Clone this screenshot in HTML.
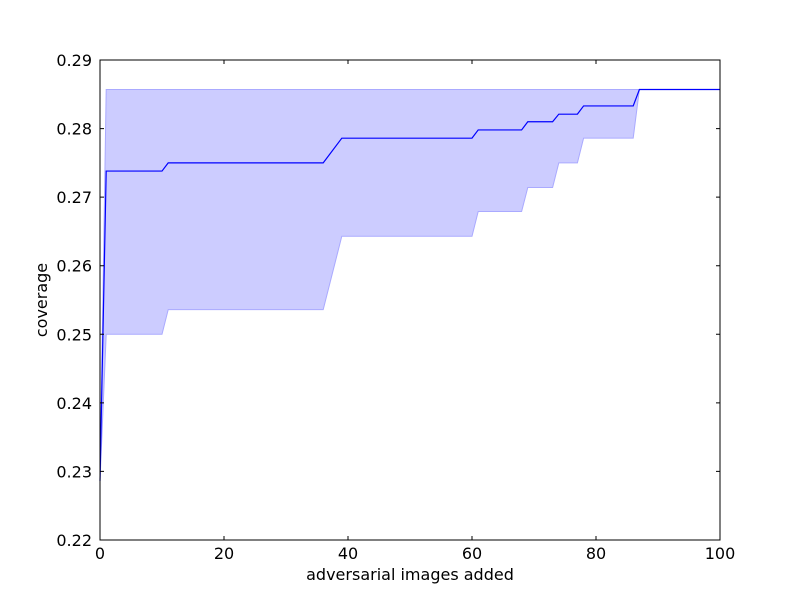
<!DOCTYPE html>
<html><head><meta charset="utf-8"><style>
body{margin:0;background:#fff;}
svg{display:block;font-family:"DejaVu Sans","Liberation Sans",sans-serif;}
</style></head><body>
<svg id="chart" width="800" height="600">
<rect width="800" height="600" fill="#fff"/>
<g id="plot"></g>
</svg>
<script>
const xs    = [0,1,10,11,36,39,60,61,68,69,73,74,77,78,86,87,100];
const meanV = [0.2286,0.2738,0.2738,0.2750,0.2750,0.2786,0.2786,0.2798,0.2798,0.2810,0.2810,0.2821,0.2821,0.2833,0.2833,0.2857,0.2857];
const lowV  = [0.2286,0.2500,0.2500,0.2536,0.2536,0.2643,0.2643,0.2679,0.2679,0.2714,0.2714,0.2750,0.2750,0.2786,0.2786,0.2857,0.2857];
const highV = [0.2286,0.2857,0.2857,0.2857,0.2857,0.2857,0.2857,0.2857,0.2857,0.2857,0.2857,0.2857,0.2857,0.2857,0.2857,0.2857,0.2857];
const xTicks = [0,20,40,60,80,100];
const yTicks = [0.22,0.23,0.24,0.25,0.26,0.27,0.28,0.29];

const L=100,R=720,T=60,B=540;
const X=v=>L+(v-0)/(100-0)*(R-L);
const Y=v=>B-(v-0.22)/(0.29-0.22)*(B-T);
const NS="http://www.w3.org/2000/svg";
const g=document.getElementById('plot');
function mk(tag,attrs,parent){const e=document.createElementNS(NS,tag);for(const k in attrs)e.setAttribute(k,attrs[k]);(parent||g).appendChild(e);return e;}

const upperPts=xs.map((x,i)=>X(x)+','+Y(highV[i]));
const lowerPts=xs.map((x,i)=>X(x)+','+Y(lowV[i])).reverse();
const band=mk('polygon',{points:upperPts.concat(lowerPts).join(' '),fill:'#ccccff',stroke:'#aaaaff','stroke-width':1});



const line=mk('polyline',{points:xs.map((x,i)=>X(x)+','+Y(meanV[i])).join(' '),fill:'none',stroke:'#0000ff','stroke-width':1.2});



const frame=mk('rect',{x:L,y:T,width:R-L,height:B-T,fill:'none',stroke:'#000','stroke-width':1});



xTicks.forEach(t=>{
  const x=X(t);
  const tk=mk('path',{d:`M${x},${B}v-4M${x},${T}v4`,stroke:'#000','stroke-width':1});
  
  
  const lb=mk('text',{x:x,y:B+19,'text-anchor':'middle','font-size':16});
  lb.textContent=t;
  
  
});
yTicks.forEach(t=>{
  const y=Y(t);
  const tk=mk('path',{d:`M${L},${y}h4M${R},${y}h-4`,stroke:'#000','stroke-width':1});
  
  
  const lb=mk('text',{x:L-8,y:y+6,'text-anchor':'end','font-size':16});
  lb.textContent=t.toFixed(2);
  
  
});
const xt=mk('text',{x:410,y:580,'text-anchor':'middle','font-size':16});
xt.textContent='adversarial images added';


const yt=mk('text',{x:47,y:300,'text-anchor':'middle','font-size':16,transform:'rotate(-90 47 300)'});
yt.textContent='coverage';


</script>
</body></html>
